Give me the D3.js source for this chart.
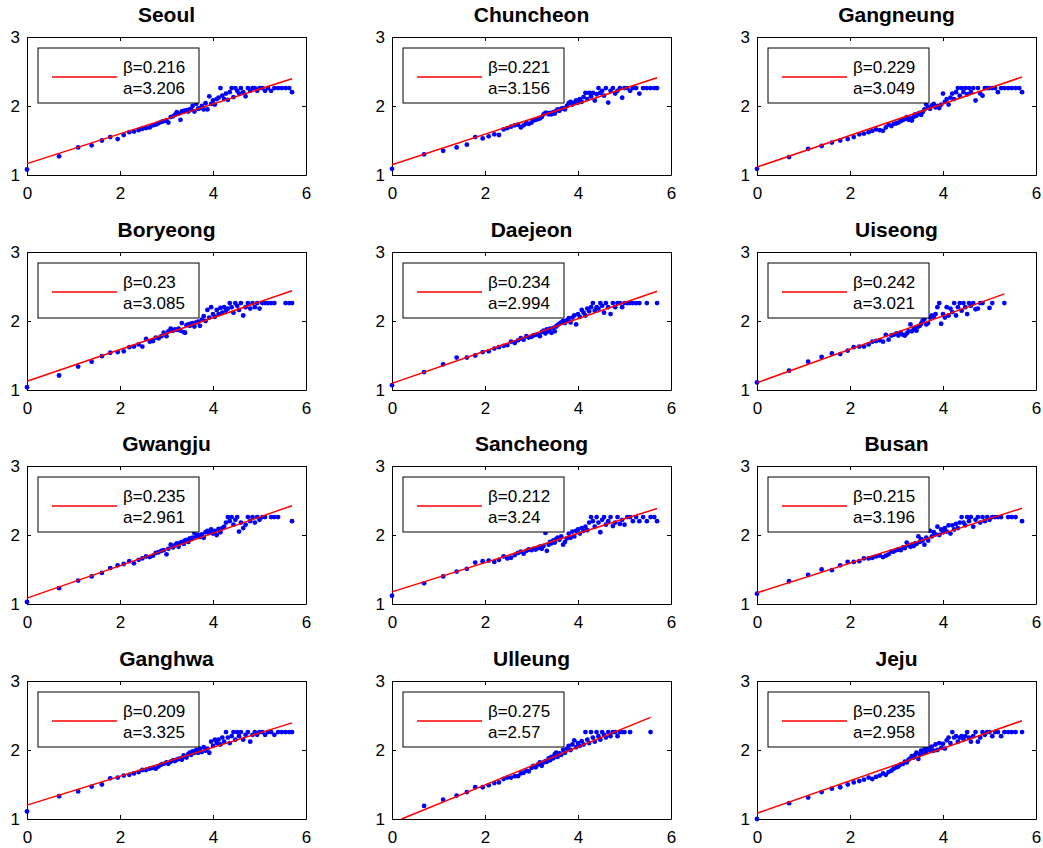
<!DOCTYPE html>
<html>
<head>
<meta charset="utf-8">
<script src="https://cdn.jsdelivr.net/npm/d3@7"></script>
<style>
body { margin: 0; background: #fff; }
text { font-family: Arial, "Liberation Sans", sans-serif; }
</style>
</head>
<body>
<div id="chart"></div>
<script>
// station names, fit parameters (line: y = ln(a) + beta * x)
const stations = ['Seoul', 'Chuncheon', 'Gangneung', 'Boryeong', 'Daejeon', 'Uiseong',
    'Gwangju', 'Sancheong', 'Busan', 'Ganghwa', 'Ulleung', 'Jeju'];
const betas = [0.216, 0.221, 0.229, 0.23, 0.234, 0.242, 0.235, 0.212, 0.215, 0.209, 0.275, 0.235];
const aValues = [3.206, 3.156, 3.049, 3.085, 2.994, 3.021, 2.961, 3.24, 3.196, 3.325, 2.57, 2.958];

const xTicks = [0, 2, 4, 6];
const yTicks = [1, 2, 3];

// x positions of the points
const xPoints = [
    0, 0.69, 1.10, 1.39, 1.61, 1.79, 1.95, 2.08, 2.20, 2.30, 2.40, 2.48, 2.56, 2.64, 2.71, 2.77, 2.83, 2.89, 2.94, 3.00,
    3.04, 3.09, 3.14, 3.18, 3.22, 3.26, 3.30, 3.33, 3.37, 3.40, 3.43, 3.47, 3.50, 3.53, 3.56, 3.60, 3.64, 3.68, 3.72, 3.76, 3.80, 3.84, 3.88, 3.92, 3.96, 4.00,
    4.04, 4.08, 4.12, 4.16, 4.20, 4.24, 4.28, 4.32, 4.36, 4.40, 4.44, 4.48, 4.52, 4.56, 4.60, 4.65, 4.70, 4.75, 4.80, 4.85, 4.90, 4.95, 5.00, 5.06, 5.12, 5.18, 5.25, 5.32, 5.40, 5.48, 5.56, 5.64, 5.70
];

const seoulY = [
    1.08, 1.27, 1.40, 1.43, 1.50, 1.55, 1.52, 1.58, 1.62, 1.63, 1.65, 1.67, 1.68, 1.69, 1.72, 1.73, 1.75, 1.77, 1.78, 1.79,
    1.76, 1.84, 1.85, 1.87, 1.91, 1.89, 1.80, 1.92, 1.93, 1.93, 1.94, 1.92, 1.95, 1.95, 2.00, 1.92, 2.03, 1.96, 1.97, 2.00, 1.95, 2.04, 1.95, 2.14, 2.03, 2.08,
    2.02, 2.10, 2.12, 2.26, 2.15, 2.10, 2.18, 2.09, 2.20, 2.26, 2.13, 2.26, 2.22, 2.18, 2.26, 2.20, 2.14, 2.26, 2.22, 2.26, 2.26, 2.22, 2.26, 2.26, 2.22, 2.26, 2.22, 2.26, 2.26, 2.26, 2.26, 2.26, 2.20
];
const chuncheonY = [
    1.09, 1.30, 1.35, 1.40, 1.44, 1.55, 1.53, 1.56, 1.59, 1.58, 1.66, 1.68, 1.70, 1.72, 1.73, 1.69, 1.72, 1.75, 1.74, 1.76,
    1.79, 1.80, 1.81, 1.82, 1.84, 1.88, 1.90, 1.90, 1.88, 1.90, 1.88, 1.91, 1.89, 1.93, 1.95, 1.93, 1.96, 1.97, 1.95, 2.00, 2.04, 2.06, 2.02, 2.05, 2.08, 2.05,
    2.10, 2.06, 2.13, 2.19, 2.10, 2.19, 2.14, 2.19, 2.08, 2.17, 2.26, 2.19, 2.22, 2.15, 2.26, 2.05, 2.22, 2.26, 2.18, 2.22, 2.26, 2.12, 2.26, 2.26, 2.22, 2.26, 2.26, 2.18, 2.26, 2.26, 2.26, 2.26, 2.26
];
const gangneungY = [
    1.09, 1.26, 1.38, 1.42, 1.47, 1.50, 1.52, 1.55, 1.59, 1.60, 1.62, 1.64, 1.66, 1.65, 1.64, 1.69, 1.73, 1.71, 1.74, 1.75,
    1.76, 1.78, 1.80, 1.81, 1.84, 1.80, 1.82, 1.79, 1.84, 1.88, 1.86, 1.89, 1.90, 1.87, 1.91, 1.95, 2.02, 1.98, 1.96, 2.01, 2.03, 1.98, 2.00, 1.97, 2.02, 2.18,
    2.06, 2.10, 2.02, 2.12, 2.18, 2.10, 2.20, 2.26, 2.15, 2.26, 2.20, 2.26, 2.17, 2.26, 2.20, 2.26, 2.08, 2.26, 2.18, 2.15, 2.26, 2.26, 2.26, 2.26, 2.26, 2.20, 2.26, 2.26, 2.26, 2.26, 2.26, 2.26, 2.20
];
const boryeongY = [
    1.04, 1.21, 1.34, 1.41, 1.49, 1.54, 1.55, 1.56, 1.62, 1.63, 1.66, 1.63, 1.74, 1.70, 1.71, 1.76, 1.75, 1.78, 1.83, 1.78,
    1.85, 1.89, 1.86, 1.88, 1.87, 1.89, 1.86, 1.97, 1.84, 1.83, 1.94, 1.95, 1.93, 1.96, 1.97, 1.92, 1.98, 1.99, 1.93, 2.02, 2.07, 2.00, 2.16, 2.05, 2.20, 2.10,
    2.06, 2.16, 2.10, 2.19, 2.12, 2.20, 2.15, 2.18, 2.26, 2.20, 2.12, 2.26, 2.22, 2.16, 2.26, 2.08, 2.20, 2.26, 2.18, 2.26, 2.20, 2.26, 2.18, 2.26, 2.26, 2.26, 2.26, 2.26, null, null, 2.26, 2.26, 2.26
];
const daejeonY = [
    1.07, 1.26, 1.37, 1.47, 1.47, 1.50, 1.55, 1.56, 1.60, 1.62, 1.64, 1.65, 1.70, 1.68, 1.72, 1.75, 1.73, 1.78, 1.76, 1.77,
    1.79, 1.80, 1.81, 1.78, 1.84, 1.86, 1.82, 1.88, 1.85, 1.89, 1.83, 1.90, 1.85, 1.92, 1.94, 1.96, 1.98, 2.00, 1.97, 2.01, 2.04, 1.98, 2.05, 2.08, 1.95, 2.10,
    2.06, 2.16, 2.12, 2.08, 2.18, 2.14, 2.20, 2.26, 2.15, 2.20, 2.18, 2.26, 2.22, 2.12, 2.26, 2.20, 2.10, 2.26, 2.20, 2.26, 2.26, 2.20, 2.26, 2.26, 2.26, 2.26, 2.26, 2.26, null, 2.26, null, null, 2.26
];
const uiseongY = [
    1.11, 1.28, 1.41, 1.48, 1.53, 1.52, 1.57, 1.62, 1.63, 1.63, 1.66, 1.70, 1.71, 1.72, 1.70, 1.80, 1.73, 1.79, 1.80, 1.82,
    1.79, 1.83, 1.80, 1.79, 1.82, 1.85, 1.95, 1.85, 1.88, 1.90, 1.86, 1.92, 1.93, 1.96, 2.00, 2.03, 1.95, 1.97, 2.05, 2.08, 2.06, 2.10, 2.20, 2.26, 1.96, 2.10,
    2.05, 2.20, 2.08, 2.18, 2.13, 2.26, 2.08, 2.20, 2.26, 2.15, 2.26, 2.20, 2.10, 2.26, 2.22, 2.26, 2.17, 2.18, 2.26, 2.26, null, null, 2.19, 2.26, null, null, null, 2.26, null, null, null, null, null
];
const gwangjuY = [
    1.03, 1.23, 1.34, 1.40, 1.45, 1.52, 1.56, 1.58, 1.62, 1.59, 1.64, 1.66, 1.69, 1.68, 1.70, 1.74, 1.75, 1.77, 1.78, 1.72,
    1.80, 1.86, 1.82, 1.85, 1.88, 1.83, 1.89, 1.90, 1.87, 1.92, 1.93, 1.90, 1.95, 1.94, 1.96, 2.03, 1.98, 2.00, 1.97, 2.01, 1.96, 2.04, 2.06, 2.03, 2.08, 2.02,
    2.06, 2.00, 2.09, 2.04, 2.10, 2.12, 2.18, 2.26, 2.20, 2.26, 2.15, 2.22, 2.26, 2.05, 2.18, 2.10, 2.15, 2.26, 2.20, 2.26, 2.18, 2.26, 2.22, 2.26, 2.26, null, 2.26, 2.26, 2.26, null, null, null, 2.20
];
const sancheongY = [
    1.12, 1.30, 1.40, 1.47, 1.51, 1.60, 1.62, 1.63, 1.61, 1.64, 1.69, 1.66, 1.67, 1.71, 1.74, 1.76, 1.73, 1.77, 1.79, 1.78,
    1.80, 1.79, 1.81, 1.83, 1.80, 1.84, 2.03, 1.77, 1.86, 1.90, 1.88, 1.92, 1.89, 1.94, 1.96, 1.93, 1.98, 1.86, 1.90, 1.95, 2.02, 1.96, 2.05, 1.98, 2.06, 2.08,
    2.02, 2.10, 2.06, 2.12, 2.07, 2.18, 2.26, 2.20, 2.12, 2.26, 2.18, 2.04, 2.22, 2.26, 2.15, 2.20, 2.26, 2.13, 2.18, 2.26, 2.16, 2.22, 2.15, 2.26, 2.26, 2.20, 2.26, 2.20, 2.26, 2.20, 2.26, 2.26, 2.20
];
const busanY = [
    1.15, 1.33, 1.42, 1.50, 1.49, 1.56, 1.61, 1.61, 1.62, 1.66, 1.66, 1.67, 1.69, 1.70, 1.68, 1.70, 1.72, 1.76, 1.76, 1.78,
    1.79, 1.78, 1.82, 1.81, 1.89, 1.85, 1.83, 1.86, 1.84, 1.88, 1.87, 1.98, 1.90, 1.94, 1.92, 1.86, 1.96, 1.92, 2.06, 1.98, 2.04, 2.01, 2.12, 2.00, 2.08, 2.04,
    2.10, 2.05, 2.14, 2.02, 2.14, 2.08, 2.16, 2.10, 2.18, 2.26, 2.18, 2.14, 2.26, 2.20, 2.26, 2.12, 2.22, 2.26, 2.18, 2.26, 2.20, 2.26, 2.22, 2.26, 2.26, 2.26, 2.26, null, 2.26, 2.26, 2.26, null, 2.20
];
const ganghwaY = [
    1.11, 1.33, 1.40, 1.47, 1.50, 1.59, 1.60, 1.63, 1.64, 1.66, 1.68, 1.71, 1.71, 1.73, 1.74, 1.73, 1.76, 1.79, 1.80, 1.82,
    1.80, 1.83, 1.85, 1.84, 1.86, 1.87, 1.88, 1.86, 1.92, 1.90, 1.89, 1.94, 1.96, 1.93, 1.98, 1.96, 2.00, 1.96, 2.02, 1.97, 2.04, 1.99, 2.02, 1.96, 2.12, 2.06,
    2.15, 2.10, 2.15, 2.08, 2.18, 2.12, 2.26, 2.18, 2.10, 2.20, 2.26, 2.15, 2.26, 2.20, 2.26, 2.15, 2.22, 2.26, 2.12, 2.22, 2.26, 2.22, 2.26, 2.26, 2.22, 2.26, 2.26, 2.22, 2.26, 2.26, 2.26, 2.26, 2.26
];
const ulleungY = [
    null, 1.19, 1.28, 1.34, 1.39, 1.46, 1.46, 1.49, 1.52, 1.53, 1.58, 1.60, 1.60, 1.62, 1.62, 1.66, 1.67, 1.70, 1.69, 1.74,
    1.77, 1.75, 1.79, 1.82, 1.77, 1.82, 1.84, 1.83, 1.88, 1.85, 1.90, 1.88, 1.94, 1.96, 1.90, 1.95, 1.93, 2.00, 1.96, 2.02, 2.06, 2.00, 2.08, 2.14, 2.04, 2.10,
    2.06, 2.13, 2.08, 2.26, 2.15, 2.10, 2.26, 2.18, 2.12, 2.26, 2.20, 2.15, 2.26, 2.22, 2.18, 2.26, 2.20, 2.26, 2.26, 2.20, 2.26, 2.26, 2.26, null, 2.26, null, null, null, null, null, 2.26, null, null
];
const jejuY = [
    1.00, 1.23, 1.31, 1.39, 1.44, 1.46, 1.50, 1.53, 1.55, 1.57, 1.60, 1.58, 1.61, 1.63, 1.66, 1.64, 1.68, 1.70, 1.73, 1.75,
    1.76, 1.79, 1.80, 1.83, 1.82, 1.86, 1.88, 1.91, 1.89, 1.93, 1.96, 1.87, 1.94, 1.99, 1.95, 2.01, 1.97, 2.03, 2.00, 2.05, 1.99, 2.08, 2.00, 2.10, 2.03, 2.09,
    2.02, 2.14, 2.18, 2.10, 2.26, 2.18, 2.20, 2.12, 2.18, 2.20, 2.16, 2.20, 2.26, 2.18, 2.12, 2.20, 2.26, 2.12, 2.18, 2.26, 2.22, 2.26, 2.26, 2.20, 2.26, 2.26, 2.20, 2.26, 2.26, 2.26, 2.26, null, 2.26
];

const seriesY = [seoulY, chuncheonY, gangneungY, boryeongY, daejeonY, uiseongY,
    gwangjuY, sancheongY, busanY, ganghwaY, ulleungY, jejuY];

const width = 1043;
const height = 848;
const colLeft = [27, 392, 757];
const rowTop = [37, 252, 466, 681];
const pw = 279;
const ph = 138;

const svg = d3.select('#chart')
    .append('svg')
    .attr('width', width)
    .attr('height', height);

stations.forEach((name, i) => {
    const col = i % 3;
    const row = Math.floor(i / 3);
    const g = svg.append('g')
        .attr('transform', `translate(${colLeft[col]},${rowTop[row]})`);

    const xScale = d3.scaleLinear().domain([0, 6]).range([0, pw]);
    const yScale = d3.scaleLinear().domain([1, 3]).range([ph, 0]);

    // white plot area
    g.append('rect')
        .attr('width', pw)
        .attr('height', ph)
        .attr('fill', 'white');

    // axes, ticks pointing inward on all four sides
    const bottom = g.append('g')
        .attr('transform', `translate(0,${ph})`)
        .call(d3.axisBottom(xScale).tickValues(xTicks).tickFormat(d3.format('d'))
            .tickSizeInner(-4).tickSizeOuter(0).tickPadding(12));
    const left = g.append('g')
        .call(d3.axisLeft(yScale).tickValues(yTicks).tickFormat(d3.format('d'))
            .tickSizeInner(-4).tickSizeOuter(0).tickPadding(7));
    g.append('g')
        .call(d3.axisTop(xScale).tickValues(xTicks).tickSizeInner(-4).tickSizeOuter(0).tickFormat(''));
    g.append('g')
        .attr('transform', `translate(${pw},0)`)
        .call(d3.axisRight(yScale).tickValues(yTicks).tickSizeInner(-4).tickSizeOuter(0).tickFormat(''));

    [bottom, left].forEach(a => a.selectAll('text')
        .attr('font-size', 17)
        .attr('font-family', 'Arial, "Liberation Sans", sans-serif')
        .attr('fill', '#000'));
    g.selectAll('.domain, .tick line').attr('stroke', '#000');

    // points
    const points = xPoints
        .map((xv, j) => ({ x: xv, y: seriesY[i][j] }))
        .filter(d => d.y != null);

    g.append('g')
        .selectAll('circle')
        .data(points)
        .enter()
        .append('circle')
        .attr('cx', d => xScale(d.x))
        .attr('cy', d => yScale(d.y))
        .attr('r', 2.4)
        .attr('fill', '#0000ff');

    // fitted line y = ln(a) + beta * x, from the axis bottom up to the last point
    const b = betas[i];
    const lnA = Math.log(aValues[i]);
    const xStart = Math.max(0, (1 - lnA) / b);
    const xEnd = d3.max(points, d => d.x);
    const fit = [xStart, xEnd].map(xv => ({ x: xv, y: lnA + b * xv }));

    g.append('path')
        .datum(fit)
        .attr('d', d3.line().x(d => xScale(d.x)).y(d => yScale(d.y)))
        .attr('fill', 'none')
        .attr('stroke', '#ff0000')
        .attr('stroke-width', 1.5);

    // title
    g.append('text')
        .attr('x', pw / 2)
        .attr('y', -15)
        .attr('text-anchor', 'middle')
        .style('font-size', '21px')
        .style('font-weight', 'bold')
        .text(name);

    // legend box
    const legend = g.append('g').attr('transform', 'translate(11,11)');
    legend.append('rect')
        .attr('width', 161)
        .attr('height', 55)
        .attr('fill', 'white')
        .attr('stroke', '#000');
    legend.append('line')
        .attr('x1', 14)
        .attr('x2', 79)
        .attr('y1', 29)
        .attr('y2', 29)
        .attr('stroke', '#ff0000')
        .attr('stroke-width', 1.5);
    legend.append('text')
        .attr('x', 85)
        .attr('y', 25)
        .style('font-size', '17px')
        .text(`β=${betas[i]}`);
    legend.append('text')
        .attr('x', 85)
        .attr('y', 46)
        .style('font-size', '17px')
        .text(`a=${aValues[i]}`);
});
</script>
</body>
</html>
